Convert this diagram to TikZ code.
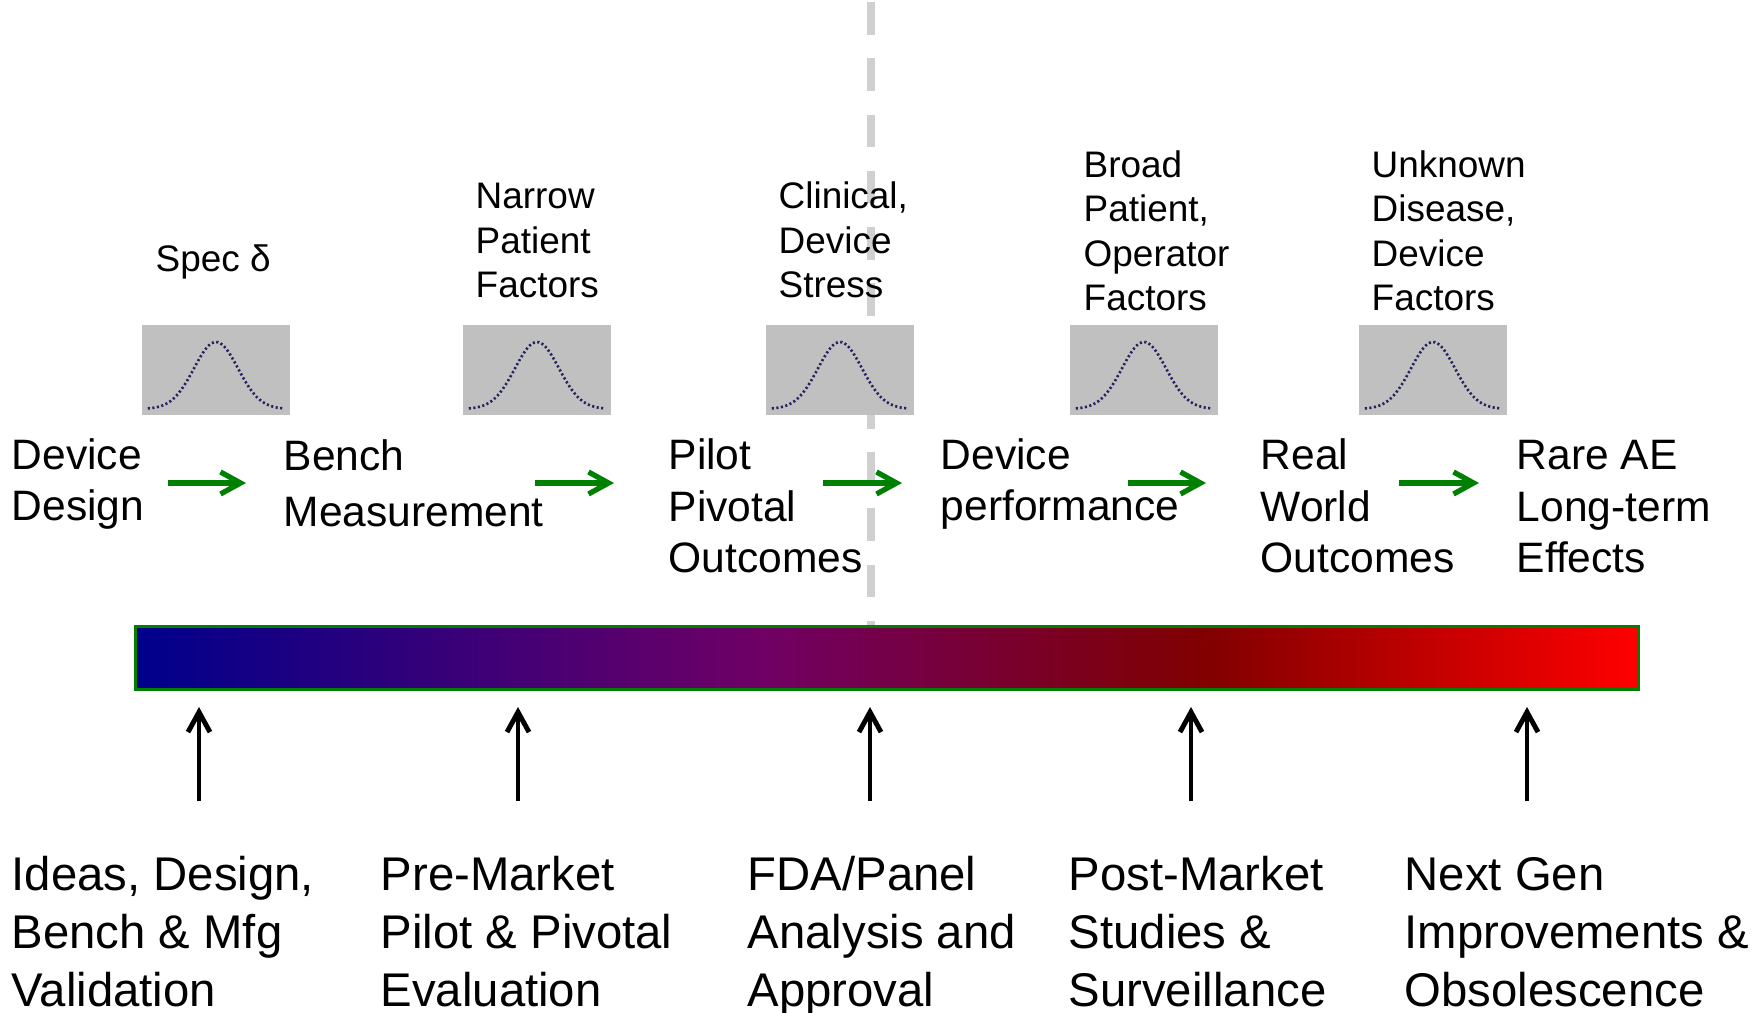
\documentclass[tikz,border=0pt]{standalone}
\usepackage{fontspec}
\setmainfont{Liberation Sans}
\usetikzlibrary{arrows.meta}
\definecolor{FlowGreen}{RGB}{0,128,0}
\definecolor{BellGray}{RGB}{192,192,192}
\definecolor{BellDots}{RGB}{35,35,95}
\definecolor{CutGray}{RGB}{208,208,208}
\definecolor{BarBlue}{RGB}{0,0,140}
\definecolor{BarPurple}{RGB}{112,0,100}
\definecolor{BarMaroon}{RGB}{128,0,0}
\definecolor{BarRed}{RGB}{255,0,0}
\pgfdeclarehorizontalshading{lifecycle}{100bp}{color(0bp)=(BarBlue); color(25bp)=(BarBlue);
  color(46bp)=(BarPurple); color(60.5bp)=(BarMaroon); color(75bp)=(BarRed); color(100bp)=(BarRed)}

\begin{document}
\begin{tikzpicture}[
x=0.01cm,y=-0.01cm,
note/.style={anchor=base west,inner sep=0,align=left,font=\fontsize{10.5}{12.7}\selectfont},
stage/.style={anchor=base west,inner sep=0,align=left,font=\fontsize{12.1}{14.65}\selectfont},
phase/.style={anchor=base west,inner sep=0,align=left,font=\fontsize{13.45}{16.5}\selectfont},
bell/.style={rectangle,fill=BellGray,minimum width=1.47cm,minimum height=0.9cm,inner sep=0,
path picture={\draw[BellDots,line width=0.75pt,dash pattern=on 0.6pt off 0.7pt,
shift={(path picture bounding box.center)}]
plot[domain=-3.1:3.1,samples=63,variable=\t] ({22*\t},{39-67*exp(-0.5*\t*\t)});}},
bar/.style={rectangle,draw=FlowGreen,line width=0.85pt,shade,shading=lifecycle,
minimum width=15.02cm,minimum height=0.62cm,inner sep=0},
divider/.style={CutGray,line width=2.4pt,dash pattern=on 9.3pt off 6.7pt},
flow/.style={-{Straight Barb[length=2mm,width=2.2mm]},line width=1.5pt,draw=FlowGreen},
push/.style={-{Straight Barb[length=2mm,width=2.2mm]},line width=1.4pt,draw=black}
]
\useasboundingbox (0,0) rectangle (1754,1013);
\node[bar] (bar) at (887,658) {};
\coordinate (cut) at (871,2);
\draw[divider] (cut) -- (cut |- bar.north);

\node[bell] (bell1) at (216,370) {};
\node[bell] (bell2) at (537,370) {};
\node[bell] (bell3) at (840,370) {};
\node[bell] (bell4) at (1144,370) {};
\node[bell] (bell5) at (1433,370) {};

% base anchors sit on the last line of each label
\node[note] (spec) at (155,272) {Spec δ};
\node[note] (narrow) at (475,298) {Narrow\\Patient\\Factors};
\node[note] (clinical) at (778,298) {Clinical,\\Device\\Stress};
\node[note] (broad) at (1083,311) {Broad\\Patient,\\Operator\\Factors};
\node[note] (unknown) at (1371,311) {Unknown\\Disease,\\Device\\Factors};

\node[stage] (design) at (11,521) {Device\\Design};
\node[stage] (bench) at (283,527) {Bench\\[1.3pt]Measurement};
\node[stage] (pilot) at (668,573) {Pilot\\Pivotal\\Outcomes};
\node[stage] (perf) at (940,521) {Device\\performance};
\node[stage] (real) at (1260,573) {Real\\World\\Outcomes};
\node[stage] (rare) at (1516,573) {Rare AE\\Long-term\\Effects};

\coordinate (g1a) at (168,483); \coordinate (g1b) at (246,483);
\coordinate (g2a) at (535,483); \coordinate (g2b) at (614,483);
\coordinate (g3a) at (823,483); \coordinate (g3b) at (902,483);
\coordinate (g4a) at (1128,483); \coordinate (g4b) at (1206,483);
\coordinate (g5a) at (1399,483); \coordinate (g5b) at (1479,483);
\draw[flow] (g1a)--(g1b); \draw[flow] (g2a)--(g2b); \draw[flow] (g3a)--(g3b);
\draw[flow] (g4a)--(g4b); \draw[flow] (g5a)--(g5b);

\coordinate (p1) at (199,801); \coordinate (p2) at (518,801); \coordinate (p3) at (870,801);
\coordinate (p4) at (1191,801); \coordinate (p5) at (1527,801);
\draw[push] (p1)--(p1 |- 0,707); \draw[push] (p2)--(p2 |- 0,707); \draw[push] (p3)--(p3 |- 0,707);
\draw[push] (p4)--(p4 |- 0,707); \draw[push] (p5)--(p5 |- 0,707);

\node[phase] (ideas) at (11,1007) {Ideas, Design,\\Bench \& Mfg\\Validation};
\node[phase] (premarket) at (380,1007) {Pre-Market\\Pilot \& Pivotal\\Evaluation};
\node[phase] (fda) at (747,1007) {FDA/Panel\\Analysis and\\Approval};
\node[phase] (postmarket) at (1068,1007) {Post-Market\\Studies \&\\Surveillance};
\node[phase] (nextgen) at (1404,1007) {Next Gen\\Improvements \&\\Obsolescence};
\end{tikzpicture}
\end{document}
